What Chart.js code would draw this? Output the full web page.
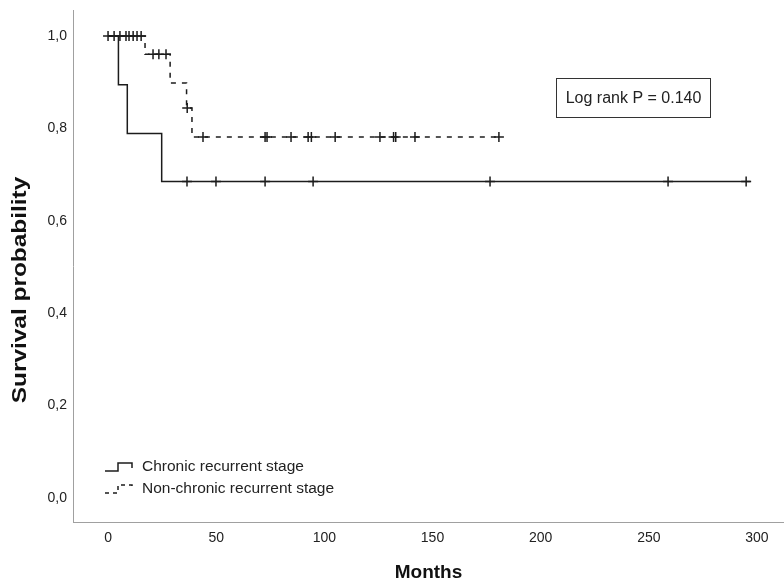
<!DOCTYPE html>
<html>
<head>
<meta charset="utf-8">
<title>Kaplan-Meier</title>
<script src="https://cdn.jsdelivr.net/npm/chart.js@4.4.0/dist/chart.umd.min.js"></script>
<style>
    html, body { margin: 0; padding: 0; background: #fff; }
</style>
</head>
<body>
<canvas id="kmChart" width="784" height="584"></canvas>
<script>
// DATA ///////////////////////////////////////
const groupNames = ["Chronic recurrent stage", "Non-chronic recurrent stage"];

// step points (month, survival) - survival holds until the next month then drops
const chronicMonths = [0, 4.8, 8.9, 24.8, 297];
const chronicSurv = [1, 0.894, 0.789, 0.685, 0.685];
const chronicCensorMonths = [36.5, 49.9, 72.6, 94.8, 176.6, 258.9, 295];
const chronicCensorSurv = [0.685, 0.685, 0.685, 0.685, 0.685, 0.685, 0.685];

const nonChronicMonths = [0, 17.1, 28.7, 36.3, 38.8, 181];
const nonChronicSurv = [1, 0.96, 0.898, 0.844, 0.781, 0.781];
const nonChronicCensorMonths = [0, 2.8, 5.5, 8.3, 9.7, 11.6, 13.4, 15.3, 20.8, 23.5, 26.8, 36.6,
    43.9, 72.6, 73.5, 84.6, 92.5, 94, 105, 125.7, 132, 133, 141.9, 180.7];
const nonChronicCensorSurv = [1, 1, 1, 1, 1, 1, 1, 1, 0.96, 0.96, 0.96, 0.844,
    0.781, 0.781, 0.781, 0.781, 0.781, 0.781, 0.781, 0.781, 0.781, 0.781, 0.781, 0.781];

const xTicks = [0, 50, 100, 150, 200, 250, 300];
const yTicks = [0, 0.2, 0.4, 0.6, 0.8, 1.0];
const yTitle = "Survival probability";
const annotationText = "Log rank P = 0.140";
// --------------------------------------------

const FONT = '"Liberation Sans", Arial, sans-serif';
const lineColor = "#1c1c1c";

function toPoints(xs, ys) {
    return xs.map((x, i) => ({ x: x, y: ys[i] }));
}

// draws y title, legend + log rank box
const overlay = {
    id: "overlay",
    afterDatasetsDraw(chart) {
        const ctx = chart.ctx;
        const area = chart.chartArea;
        ctx.save();

        // y axis title (reference text is stretched along its length)
        ctx.save();
        ctx.translate(20, area.top + 280);
        ctx.rotate(-Math.PI / 2);
        ctx.scale(1.22, 1);
        ctx.font = "bold 20px " + FONT;
        ctx.fillStyle = "#111";
        ctx.textAlign = "center";
        ctx.textBaseline = "middle";
        ctx.fillText(yTitle, 0, 0);
        ctx.restore();

        // Log rank box
        const bx = area.left + 483.5, by = area.top + 68.5;
        ctx.strokeStyle = "#333";
        ctx.lineWidth = 1;
        ctx.strokeRect(bx, by, 154, 39);
        ctx.fillStyle = "#222";
        ctx.font = "16px " + FONT;
        ctx.textAlign = "center";
        ctx.textBaseline = "middle";
        ctx.fillText(annotationText, bx + 77, by + 20);

        // legend
        const lx = area.left + 32;
        const rows = [area.top + 457, area.top + 479];
        ctx.font = "15.5px " + FONT;
        ctx.textAlign = "left";
        ctx.lineWidth = 1.5;
        ctx.strokeStyle = lineColor;
        rows.forEach((ry, i) => {
            ctx.setLineDash(i === 1 ? [4, 4] : []);
            ctx.beginPath();
            ctx.moveTo(lx, ry + 4);
            ctx.lineTo(lx + 13, ry + 4);
            ctx.lineTo(lx + 13, ry - 4);
            ctx.lineTo(lx + 27, ry - 4);
            ctx.lineTo(lx + 27, ry + 1);
            ctx.stroke();
            ctx.setLineDash([]);
            ctx.fillText(groupNames[i], lx + 37, ry);
        });
        ctx.restore();
    }
};

new Chart("kmChart", {
    type: "scatter",
    data: {
        datasets: [
            {
                label: groupNames[0],
                data: toPoints(chronicMonths, chronicSurv),
                showLine: true,
                stepped: "before",
                borderColor: lineColor,
                borderWidth: 1.5,
                pointRadius: 0
            },
            {
                label: groupNames[1],
                data: toPoints(nonChronicMonths, nonChronicSurv),
                showLine: true,
                stepped: "before",
                borderColor: lineColor,
                borderWidth: 1.5,
                borderDash: [5, 6],
                pointRadius: 0
            },
            {
                label: "censored 1",
                data: toPoints(chronicCensorMonths, chronicCensorSurv),
                showLine: false,
                pointStyle: "cross",
                pointRadius: 5,
                borderColor: lineColor,
                borderWidth: 1.5
            },
            {
                label: "censored 2",
                data: toPoints(nonChronicCensorMonths, nonChronicCensorSurv),
                showLine: false,
                pointStyle: "cross",
                pointRadius: 5,
                borderColor: lineColor,
                borderWidth: 1.5
            }
        ]
    },
    options: {
        responsive: false,
        animation: false,
        layout: { autoPadding: false, padding: { top: 10, right: 0, bottom: 0, left: 0 } },
        plugins: {
            legend: { display: false },
            tooltip: { enabled: false }
        },
        scales: {
            x: {
                type: "linear",
                position: "bottom",
                min: -16.2,
                max: 312.5,
                grid: { display: false, drawTicks: false },
                border: { color: "#a0a0a0", width: 1 },
                afterBuildTicks: (scale) => { scale.ticks = xTicks.map(v => ({ value: v })); },
                afterFit: (scale) => {
                    scale.height = 62;
                    scale.paddingLeft = 0;
                    scale.paddingRight = 0;
                },
                ticks: {
                    padding: 8,
                    color: "#222",
                    font: { family: FONT, size: 14 }
                },
                title: {
                    display: true,
                    text: "Months",
                    color: "#111",
                    font: { family: FONT, size: 19, weight: "bold" },
                    padding: { top: 0, bottom: 0 }
                }
            },
            y: {
                type: "linear",
                min: -0.052,
                max: 1.056,
                grid: { display: false, drawTicks: false },
                border: { color: "#a0a0a0", width: 1 },
                afterBuildTicks: (scale) => { scale.ticks = yTicks.map(v => ({ value: v })); },
                afterFit: (scale) => {
                    scale.width = 73;
                    scale.paddingTop = 0;
                    scale.paddingBottom = 0;
                },
                ticks: {
                    padding: 6,
                    color: "#222",
                    font: { family: FONT, size: 14 },
                    callback: (v) => v.toFixed(1).replace(".", ",")
                },
                title: { display: false }
            }
        }
    },
    plugins: [overlay]
});
</script>
</body>
</html>
